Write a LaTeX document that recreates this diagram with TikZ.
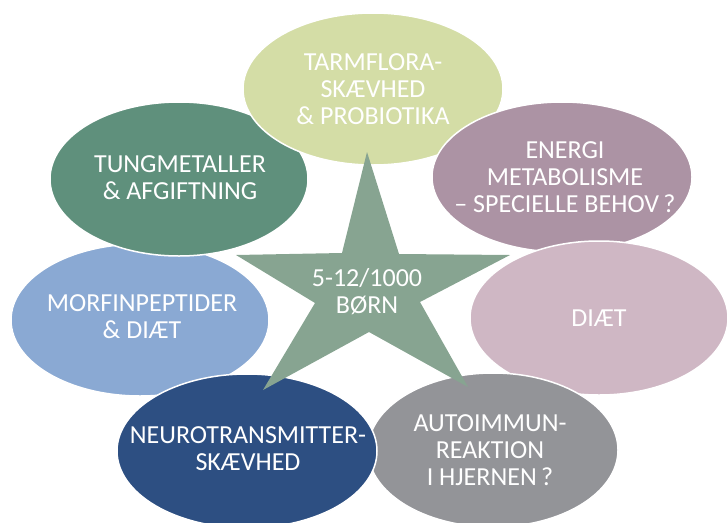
\documentclass[tikz,border=0pt]{standalone}
\usepackage{fontspec}
\setmainfont{Carlito}
\usepackage{xcolor}
\usetikzlibrary{calc}

\definecolor{tarmgreen}{HTML}{D4DDA6}
\definecolor{metalgreen}{HTML}{5F907C}
\definecolor{energimauve}{HTML}{AC93A4}
\definecolor{diaetpink}{HTML}{CFB7C4}
\definecolor{morfinblue}{HTML}{8AA9D3}
\definecolor{neuroblue}{HTML}{2D4F82}
\definecolor{autogray}{HTML}{939498}
\definecolor{stargreen}{HTML}{87A491}

\begin{document}
\begin{tikzpicture}[x=1pt, y=-1pt,
    bubble/.style={draw=white, line width=1.5pt},
    bubbletext/.style={text=white, align=center, inner sep=0pt,
        font=\fontsize{26}{27}\selectfont}]

    \useasboundingbox (0,0) rectangle (727,522);

    %coordinates
    \coordinate (MO) at (140,320); %morfin
    \coordinate (TU) at (179,179); %tungmetaller
    \coordinate (TA) at (373,89);  %tarmflora
    \coordinate (EN) at (562,177); %energi
    \coordinate (DI) at (599,318); %diaet
    \coordinate (AU) at (493,450); %autoimmun
    \coordinate (NE) at (247,451); %neurotransmitter
    \coordinate (S) at (367,292);  %star centre

    %ellipses, back to front
    \filldraw[bubble, fill=morfinblue] (MO) ellipse (129 and 76);
    \node[bubbletext] (morfin) at ($(MO)+(2,-3)$) {MORFINPEPTIDER\\\& DIÆT};

    \filldraw[bubble, fill=metalgreen] (TU) ellipse (129 and 77);
    \node[bubbletext] (metal) at ($(TU)+(1,-1)$) {TUNGMETALLER\\\& AFGIFTNING};

    \filldraw[bubble, fill=tarmgreen] (TA) ellipse (130 and 76);
    \node[bubbletext] (tarm) at (TA) {TARMFLORA-\\SKÆVHED\\\& PROBIOTIKA};

    \filldraw[bubble, fill=energimauve] (EN) ellipse (130 and 75);
    \node[bubbletext] (energi) at ($(EN)+(3,0)$) {ENERGI\\METABOLISME\\– SPECIELLE BEHOV\,?};

    \filldraw[bubble, fill=diaetpink] (DI) ellipse (129 and 77);
    \node[bubbletext] (diaet) at (DI) {DIÆT};

    \filldraw[bubble, fill=autogray] (AU) ellipse (125 and 77);
    \node[bubbletext] (auto) at ($(AU)+(-3,0)$) {AUTOIMMUN-\\REAKTION\\I HJERNEN\,?};

    \filldraw[bubble, fill=neuroblue] (NE) ellipse (130 and 77);
    \node[bubbletext] (neuro) at ($(NE)+(1,-2)$) {NEUROTRANSMITTER-\\SKÆVHED};

    %star
    \fill[stargreen] (367,152) -- (399,254) -- (510,255) -- (420,302) -- (468,387)
        -- (369,332) -- (263,390) -- (315,303) -- (236,255) -- (342,253) -- cycle;
    \node[bubbletext] (born) at (S) {5-12/1000\\BØRN};

\end{tikzpicture}
\end{document}
